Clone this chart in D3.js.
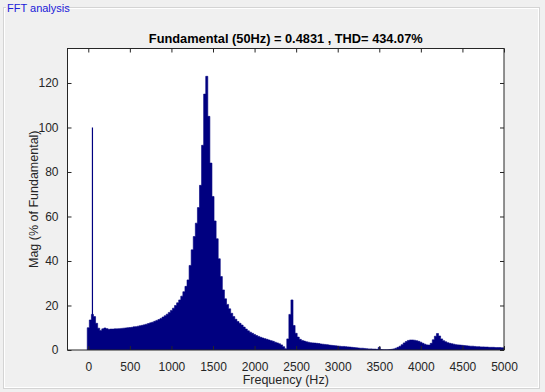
<!DOCTYPE html>
<html>
<head>
<meta charset="utf-8">
<script src="https://cdn.jsdelivr.net/npm/d3@7"></script>
<style>
  html, body { margin: 0; padding: 0; background: #f0f0f0; }
  svg { display: block; font-family: "Liberation Sans", Arial, sans-serif; }
</style>
</head>
<body>
<svg id="chart" width="545" height="392"></svg>
<script>
// FFT spectrum, one magnitude per 25 Hz bin (starting at 0 Hz)
const binHz = 25;
const magnitudes = [
  10, 13.5, 16, 15, 12, 9.8, 8.8, 9.5, 9.9, 9.6,
  9.3, 9.4, 9.4, 9.5, 9.5, 9.6, 9.7, 9.8, 9.9, 10,
  10.1, 10.2, 10.4, 10.5, 10.7, 10.9, 11.1, 11.3, 11.6, 11.9,
  12.2, 12.5, 12.9, 13.3, 13.7, 14.2, 14.8, 15.4, 16.1, 16.9,
  17.8, 18.8, 20, 21.2, 22.5, 24.2, 26.2, 28.6, 31.5, 38,
  45, 51, 57, 64, 74, 92, 115, 123, 105, 84,
  69, 58, 50, 41, 33, 27, 23, 20.5, 18.5, 16.5,
  15, 13.8, 12.8, 12, 11.2, 10.3, 9.4, 8.6, 8, 7.5,
  7, 6.5, 6.1, 5.7, 5.4, 5.1, 4.8, 4.5, 4.2, 3.9,
  3.5, 3.2, 2.8, 2.3, 1.5, 0.6, 5, 16, 22.5, 11,
  7.5, 5.8, 4.8, 4.3, 4, 3.7, 3.5, 3.3, 3.2, 3.1,
  3, 2.9, 2.7, 2.6, 2.5, 2.4, 2.2, 2.1, 2, 1.9,
  1.8, 1.7, 1.6, 1.6, 1.5, 1.4, 1.3, 1.2, 1.1, 1.0,
  0.9, 0.8, 0.8, 0.7, 0.6, 0.5, 0.5, 0.4, 0.4, 0.3,
  1.2, 0.2, 0.1, 0.1, 0.1, 0.2, 0.3, 0.5, 0.8, 1.2,
  1.7, 2.4, 3.2, 3.8, 4.3, 4.5, 4.5, 4.4, 4.2, 3.9,
  3.5, 3, 2.6, 2.3, 2.2, 3, 4.6, 6.2, 7.4, 6.3,
  5, 4.2, 3.7, 3.3, 3.0, 2.8, 2.6, 2.4, 2.3, 2.2,
  2.1, 2, 1.9, 1.8, 1.7, 1.7, 1.6, 1.5, 1.5, 1.4,
  1.4, 1.3, 1.3, 1.2, 1.2, 1.2, 1.1, 1.1, 1.1, 1.0,
  1.0
];
// fundamental drawn as a thin line on its own
const fundamentalHz = 50;
const fundamentalMag = 100;

const xTicks = [0, 500, 1000, 1500, 2000, 2500, 3000, 3500, 4000, 4500, 5000];
const yTicks = [0, 20, 40, 60, 80, 100, 120];
const xDomain = [-250, 5000];
const yDomain = [0, 135.5];

const titleText = "Fundamental (50Hz) = 0.4831 , THD= 434.07%";
const xLabel = "Frequency (Hz)";
const yLabel = "Mag (% of Fundamental)";
const panelTitle = "FFT analysis";

const svg = d3.select("#chart");
const plot = { left: 67.5, right: 504, top: 48.5, bottom: 350 };
const barColor = "#000080";
const axisColor = "#262626";
const tickLen = 4;

const x = d3.scaleLinear(xDomain, [plot.left, plot.right]);
const y = d3.scaleLinear(yDomain, [plot.bottom, plot.top]);

// panel frame (uipanel look)
const panel = svg.append("g").attr("class", "panel");
panel.append("rect")
  .attr("x", 3.5).attr("y", 7.5)
  .attr("width", 536).attr("height", 381)
  .attr("fill", "none")
  .attr("stroke", "#d4d4d4");
panel.append("rect")
  .attr("x", 4.5).attr("y", 8.5)
  .attr("width", 534).attr("height", 379)
  .attr("fill", "none")
  .attr("stroke", "#ffffff");
panel.append("rect")
  .attr("x", 6).attr("y", 2)
  .attr("width", 57).attr("height", 12)
  .attr("fill", "#f0f0f0");
panel.append("text")
  .attr("x", 7).attr("y", 11.5)
  .attr("font-size", 11)
  .attr("fill", "#2020d8")
  .text(panelTitle);

// plot background
svg.append("rect")
  .attr("x", plot.left).attr("y", plot.top)
  .attr("width", plot.right - plot.left)
  .attr("height", plot.bottom - plot.top)
  .attr("fill", "#ffffff");

svg.append("clipPath").attr("id", "plotClip")
  .append("rect")
  .attr("x", plot.left).attr("y", plot.top)
  .attr("width", plot.right - plot.left)
  .attr("height", plot.bottom - plot.top);

// bars: adjacent bins merged into one stepped shape so no seams show
const binEdges = magnitudes.map((v, i) => ({ f: i * binHz - binHz / 2, v }));
binEdges.push({ f: (magnitudes.length - 0.5) * binHz, v: magnitudes[magnitudes.length - 1] });

const barArea = d3.area()
  .x(d => x(d.f))
  .y0(y(0))
  .y1(d => y(d.v))
  .curve(d3.curveStepAfter);

const barsG = svg.append("g").attr("clip-path", "url(#plotClip)");
barsG.append("path")
  .datum(binEdges)
  .attr("d", barArea)
  .attr("fill", barColor)
  .attr("stroke", barColor)
  .attr("stroke-width", 0.6)
  .attr("stroke-linejoin", "miter");

barsG.append("rect")
  .attr("x", x(fundamentalHz) - 0.6)
  .attr("width", 1.2)
  .attr("y", y(fundamentalMag))
  .attr("height", y(0) - y(fundamentalMag))
  .attr("fill", barColor);

// axes box with inward ticks on all four sides
const axesG = svg.append("g").attr("class", "axes");
axesG.append("rect")
  .attr("x", plot.left).attr("y", plot.top)
  .attr("width", plot.right - plot.left)
  .attr("height", plot.bottom - plot.top)
  .attr("fill", "none")
  .attr("stroke", axisColor)
  .attr("stroke-width", 1);

const bottomAxis = d3.axisBottom(x).tickValues(xTicks).tickFormat(d3.format("d"))
  .tickSizeInner(-tickLen).tickSizeOuter(0).tickPadding(12);
const topAxis = d3.axisTop(x).tickValues(xTicks).tickSizeInner(-tickLen).tickSizeOuter(0).tickFormat("");
const leftAxis = d3.axisLeft(y).tickValues(yTicks).tickFormat(d3.format("d"))
  .tickSizeInner(-tickLen).tickSizeOuter(0).tickPadding(9);
const rightAxis = d3.axisRight(y).tickValues(yTicks).tickSizeInner(-tickLen).tickSizeOuter(0).tickFormat("");

function styleAxis(g) {
  g.select(".domain").remove();
  g.selectAll(".tick line").attr("stroke", axisColor);
  g.selectAll(".tick text")
    .attr("fill", axisColor)
    .attr("font-size", 12)
    .attr("font-family", "Liberation Sans, Arial, sans-serif");
}

axesG.append("g").attr("transform", `translate(0,${plot.bottom})`).call(bottomAxis).call(styleAxis);
axesG.append("g").attr("transform", `translate(0,${plot.top})`).call(topAxis).call(styleAxis);
axesG.append("g").attr("transform", `translate(${plot.left},0)`).call(leftAxis).call(styleAxis);
axesG.append("g").attr("transform", `translate(${plot.right},0)`).call(rightAxis).call(styleAxis);

// labels
const midX = (plot.left + plot.right) / 2;
svg.append("text")
  .attr("x", midX).attr("y", 42.5)
  .attr("text-anchor", "middle")
  .attr("font-size", 12.8)
  .attr("font-weight", "bold")
  .attr("fill", "#000")
  .text(titleText);

svg.append("text")
  .attr("x", midX).attr("y", 383.5)
  .attr("text-anchor", "middle")
  .attr("font-size", 12.5)
  .attr("fill", axisColor)
  .text(xLabel);

svg.append("text")
  .attr("transform", `translate(38,${(plot.top + plot.bottom) / 2}) rotate(-90)`)
  .attr("text-anchor", "middle")
  .attr("font-size", 12.5)
  .attr("fill", axisColor)
  .text(yLabel);
</script>
</body>
</html>
